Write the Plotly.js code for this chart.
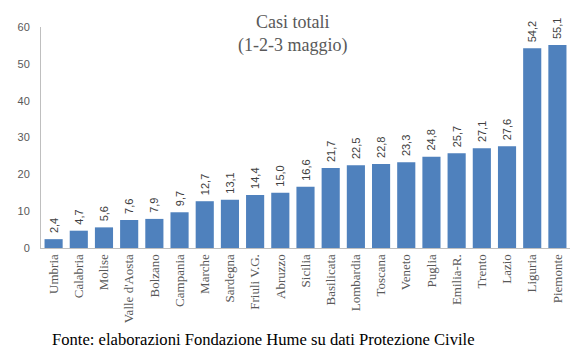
<!DOCTYPE html>
<html><head><meta charset="utf-8">
<script src="https://cdn.plot.ly/plotly-3.0.1.min.js"></script>
<style>html,body{margin:0;padding:0;background:#fff}#chart{width:582px;height:363px}</style>
</head><body><div id="chart"></div>
<script>
const regions = ["Umbria","Calabria","Molise","Valle d'Aosta","Bolzano","Campania","Marche","Sardegna","Friuli V.G.","Abruzzo","Sicilia","Basilicata","Lombardia","Toscana","Veneto","Puglia","Emilia-R.","Trento","Lazio","Liguria","Piemonte"];
const casi = [2.4,4.7,5.6,7.6,7.9,9.7,12.7,13.1,14.4,15.0,16.6,21.7,22.5,22.8,23.3,24.8,25.7,27.1,27.6,54.2,55.1];
const yTicks = [0,10,20,30,40,50,60];
const titleText = "Casi totali<br>(1-2-3 maggio)";
const sourceText = "Fonte: elaborazioni Fondazione Hume su dati Protezione Civile";

const labels = casi.map(v => '\u00A0' + v.toFixed(1).replace('.', ','));

Plotly.newPlot('chart', [{
  type: 'bar', x: regions, y: casi,
  marker: {color: '#4F81BD'},
  text: labels, textposition: 'outside', textangle: -90, cliponaxis: false, constraintext: 'none',
  textfont: {family: 'Liberation Sans, Arial, sans-serif', size: 11, color: '#404040'},
  hoverinfo: 'none'
}], {
  width: 582, height: 363,
  margin: {l: 41, r: 12, t: 27, b: 115},
  paper_bgcolor: '#fff', plot_bgcolor: '#fff',
  bargap: 0.28,
  showlegend: false,
  xaxis: {type: 'category', tickangle: -90, showgrid: false, showline: true, linecolor: '#BFBFBF', linewidth: 1,
    ticks: '', tickfont: {family: 'Liberation Serif, serif', size: 13, color: '#595959'}},
  yaxis: {range: [0, 60], tickvals: yTicks, showgrid: false, zeroline: false, showline: true, linecolor: '#BFBFBF', linewidth: 1,
    ticks: '', ticklabelstandoff: 8, tickfont: {family: 'Liberation Sans, Arial, sans-serif', size: 11, color: '#595959'}},
  annotations: [
    {text: titleText, xref: 'paper', yref: 'paper', x: 0.475, y: 0.97, xanchor: 'center', yanchor: 'middle', showarrow: false,
      font: {family: 'Liberation Serif, DejaVu Serif, serif', size: 18, color: '#595959'}},
    {text: sourceText, xref: 'paper', yref: 'paper', x: 0.42, y: -0.416, xanchor: 'center', yanchor: 'middle', showarrow: false,
      font: {family: 'Liberation Serif, Times New Roman, serif', size: 16.6, color: '#000'}}]
}, {staticPlot: true});
</script></body></html>
